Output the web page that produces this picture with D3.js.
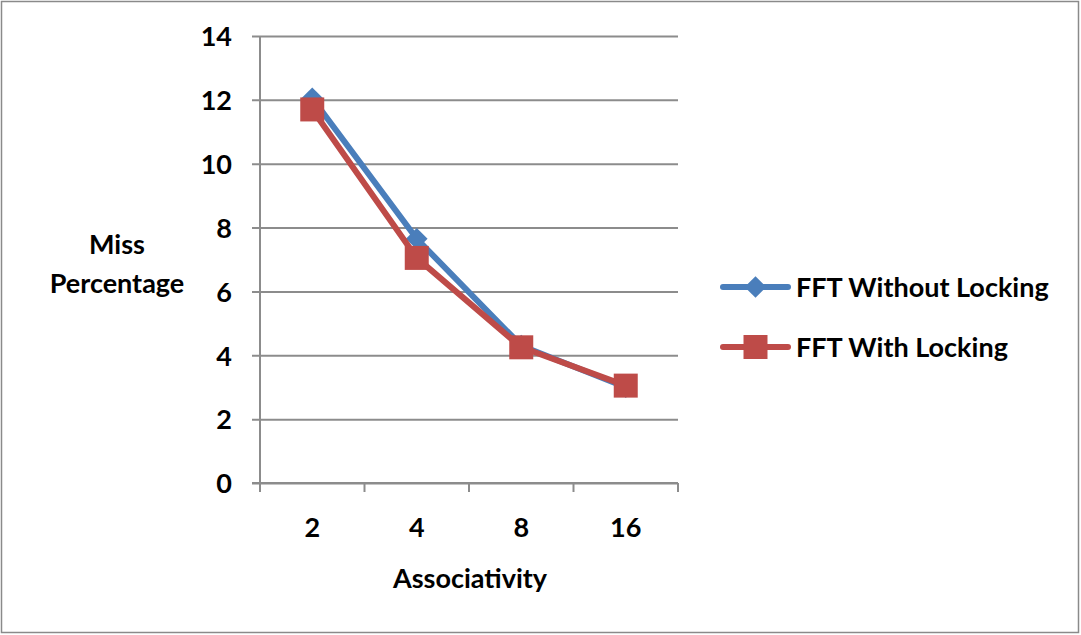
<!DOCTYPE html>
<html>
<head>
<meta charset="utf-8">
<script src="https://cdn.jsdelivr.net/npm/d3@7"></script>
<style>
  html, body { margin: 0; padding: 0; background: #fff; }
  svg text { font-family: Lato, "Open Sans", sans-serif; font-weight: 700; fill: #000; }
</style>
</head>
<body>
<svg id="chart" width="1081" height="635"></svg>
<script>
// Miss percentage by cache associativity
const categories = ["2", "4", "8", "16"];
const withoutLocking = [12.05, 7.65, 4.3, 3.0];
const withLocking = [11.7, 7.05, 4.25, 3.05];
const yTicks = [0, 2, 4, 6, 8, 10, 12, 14];
const seriesNames = ["FFT Without Locking", "FFT With Locking"];

const svg = d3.select("#chart");
const W = 1081, H = 635;
const plot = { left: 260, right: 678, top: 36, bottom: 483 };
const gridColor = "#8c8c8c";
const colors = ["#4a7ebb", "#be4b48"];
const fontSize = 27;

// chart frame
svg.append("rect")
  .attr("x", 1.5).attr("y", 1.5)
  .attr("width", W - 4).attr("height", H - 4)
  .attr("fill", "#fff").attr("stroke", "#8a8a8a").attr("stroke-width", 1.5);

const x = d3.scaleBand().domain(categories).range([plot.left, plot.right]).padding(0);
const y = d3.scaleLinear().domain([0, 14]).range([plot.bottom, plot.top]);

// horizontal gridlines with left tick marks
const yAxis = d3.axisLeft(y).tickValues(yTicks).tickSize(-(plot.right - plot.left)).tickSizeOuter(0);
const gy = svg.append("g").attr("transform", `translate(${plot.left},0)`).call(yAxis);
gy.select(".domain").remove();
gy.selectAll(".tick line").attr("stroke", gridColor).attr("stroke-width", 2).attr("x1", -8);
gy.selectAll(".tick text").attr("font-size", fontSize).attr("x", -28).attr("dy", "0.36em");

// vertical axis line
svg.append("line")
  .attr("x1", plot.left).attr("x2", plot.left)
  .attr("y1", plot.top).attr("y2", plot.bottom + 9)
  .attr("stroke", gridColor).attr("stroke-width", 2);

// category axis
const xAxis = d3.axisBottom(x).tickSize(0).tickPadding(35);
const gx = svg.append("g").attr("transform", `translate(0,${plot.bottom})`).call(xAxis);
gx.select(".domain").remove();
gx.selectAll(".tick text").attr("font-size", fontSize);
svg.append("line")
  .attr("x1", plot.left - 8).attr("x2", plot.right)
  .attr("y1", plot.bottom).attr("y2", plot.bottom)
  .attr("stroke", gridColor).attr("stroke-width", 2);
// tick marks between categories
const bounds = categories.map(c => x(c)).concat([x(categories[categories.length - 1]) + x.bandwidth()]);
svg.selectAll(".xtick").data(bounds).enter().append("line")
  .attr("x1", d => d).attr("x2", d => d)
  .attr("y1", plot.bottom).attr("y2", plot.bottom + 9)
  .attr("stroke", gridColor).attr("stroke-width", 2);

// axis titles
svg.append("text").attr("x", 470).attr("y", 588).attr("text-anchor", "middle")
  .attr("font-size", fontSize).text("Associativity");
svg.append("text").attr("x", 117).attr("y", 254).attr("text-anchor", "middle")
  .attr("font-size", fontSize).text("Miss");
svg.append("text").attr("x", 117).attr("y", 293).attr("text-anchor", "middle")
  .attr("font-size", fontSize).text("Percentage");

const cx = d => x(d) + x.bandwidth() / 2;
const line = d3.line().x(d => cx(d.c)).y(d => y(d.v));

const series = [withoutLocking, withLocking].map((vals, i) => ({
  name: seriesNames[i], color: colors[i],
  points: vals.map((v, j) => ({ c: categories[j], v }))
}));

const diamond = d3.symbol().type(d3.symbolDiamond2).size(300);
const square = d3.symbol().type(d3.symbolSquare).size(576);

series.forEach((s, i) => {
  svg.append("path").datum(s.points)
    .attr("d", line).attr("fill", "none")
    .attr("stroke", s.color).attr("stroke-width", 6).attr("stroke-linejoin", "round");
  svg.selectAll(".m" + i).data(s.points).enter().append("path")
    .attr("transform", d => `translate(${cx(d.c)},${y(d.v)})`)
    .attr("d", i === 0 ? diamond : square)
    .attr("fill", s.color);
});

// legend
const legendY = [287, 347];
series.forEach((s, i) => {
  const g = svg.append("g").attr("transform", `translate(723,${legendY[i]})`);
  g.append("line").attr("x1", 0).attr("x2", 65).attr("y1", 0).attr("y2", 0)
    .attr("stroke", s.color).attr("stroke-width", 6).attr("stroke-linecap", "round");
  g.append("path").attr("transform", "translate(32.5,0)")
    .attr("d", i === 0 ? diamond : square).attr("fill", s.color);
  g.append("text").attr("x", 73).attr("dy", "0.36em").attr("font-size", fontSize).text(s.name);
});
</script>
</body>
</html>
